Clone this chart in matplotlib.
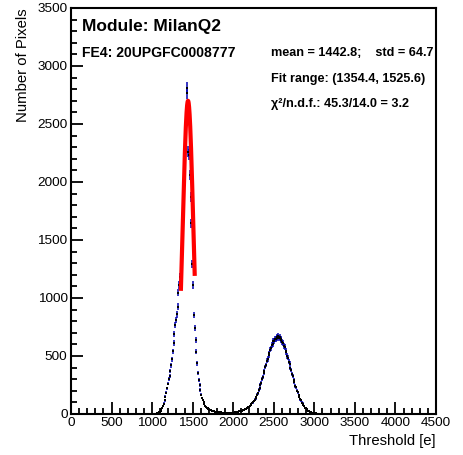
import numpy as np
import matplotlib
matplotlib.use("Agg")
import matplotlib.pyplot as plt

plt.rcParams['font.family'] = ['Liberation Sans', 'DejaVu Sans']

# ---- data (bin width 10 e, bin centers) ----
bin_width = 10
first_center = 1045
counts = [
    # 1045 .. 1435 (peak 1, left side)
    2, 4, 6, 10, 15, 20, 30, 42, 55, 70,
    90, 118, 150, 185, 220, 262, 300, 330, 372, 420,
    470, 540, 612, 690, 765, 810, 860, 925, 1046, 1112,
    1183, 1300, 1457, 1672, 1819, 2164, 2379, 2578, 2764, 2808,
    # 1445 .. 1795 (peak 1, right side)
    2261, 2233, 2060, 1868, 1644, 1293, 1112, 853, 740, 640,
    537, 437, 351, 293, 250, 207, 164, 138, 121, 100,
    84, 72, 60, 54, 48, 42, 38, 35, 31, 28,
    26, 24, 22, 21, 20, 19,
    # 1805 .. 2095 (valley)
    18, 17, 16, 15, 14, 13, 12, 12, 11, 10,
    10, 9, 9, 8, 9, 8, 9, 10, 10, 11,
    12, 12, 14, 15, 17, 18, 21, 22, 25, 27,
    # 2105 .. 2995 (peak 2)
    30, 32, 34, 37, 40, 44, 48, 53, 58, 64,
    70, 77, 84, 92, 100, 112, 125, 134, 145, 168,
    180, 207, 221, 251, 268, 300, 318, 351, 370, 404,
    422, 458, 474, 509, 522, 556, 566, 597, 603, 630,
    628, 648, 645, 666, 652, 672, 655, 660, 641, 645,
    618, 613, 588, 577, 546, 532, 500, 484, 449, 432,
    397, 378, 343, 326, 294, 274, 244, 229, 200, 186,
    160, 148, 126, 118, 99, 90, 76, 69, 56, 51,
    41, 37, 29, 26, 20, 17, 14, 11, 9, 8,
    # 3005 .. 3195 (tail)
    6, 5, 4, 4, 3, 2, 2, 1, 2, 1,
    1, 0, 1, 0, 0, 1, 0, 0, 0, 0,
]

# fit parameters (from the annotation)
fit_mean = 1442.8
fit_std = 64.7
fit_amplitude = 2700
fit_lo, fit_hi = 1354.4, 1525.6
chi2, ndf = 45.3, 14.0

module_name = "Module: MilanQ2"
fe_name = "FE4: 20UPGFC0008777"

x_ticks = [0, 500, 1000, 1500, 2000, 2500, 3000, 3500, 4000, 4500]
y_ticks = [0, 500, 1000, 1500, 2000, 2500, 3000, 3500]

# ---- plot ----
counts = np.array(counts, dtype=float)
centers = first_center + bin_width * np.arange(len(counts))
errs = np.sqrt(counts)

W, H = 464, 455
fig = plt.figure(figsize=(W / 100, H / 100), dpi=100)
ax = fig.add_axes([71 / W, (H - 414) / H, (436 - 71) / W, (414 - 8) / H])

ax.errorbar(centers, counts, yerr=errs, fmt='none', ecolor='#0000b0',
            elinewidth=1.1, capsize=0, zorder=2)
ax.plot(centers, counts, ls='none', marker='s', ms=2.0, mfc='black',
        mec='black', mew=0, zorder=3)

xf = np.linspace(fit_lo, fit_hi, 200)
yf = fit_amplitude * np.exp(-0.5 * ((xf - fit_mean) / fit_std) ** 2)
ax.plot(xf, yf, color='#ff0000', lw=3.0, zorder=4, solid_capstyle='butt')

ax.set_xlim(0, 4500)
ax.set_ylim(0, 3500)
ax.set_xticks(x_ticks)
ax.set_yticks(y_ticks)
ax.set_xticklabels([str(v) for v in x_ticks])
ax.set_yticklabels([str(v) for v in y_ticks])
ax.set_xticks(np.arange(0, 4501, 100), minor=True)
ax.set_yticks(np.arange(0, 3501, 100), minor=True)

ax.tick_params(which='both', direction='in', top=False, right=False,
               labelsize=9.7, width=1.3, colors='black')
ax.tick_params(which='major', length=8.5, pad=2.5)
ax.tick_params(which='minor', length=4.3)
for s in ax.spines.values():
    s.set_linewidth(1.5)

ax.set_xlabel("Threshold [e]", fontsize=10.7, loc='right', labelpad=3)
ax.set_ylabel("Number of Pixels", fontsize=10.7, loc='top', labelpad=5)

def axpos(px, py):
    return (px - 71) / 365, (414 - py) / 406

ax.text(*axpos(82, 27), module_name, fontsize=12.5, fontweight='bold',
        va='center', ha='left', transform=ax.transAxes)
ax.text(*axpos(82, 53), fe_name, fontsize=10.1, fontweight='bold',
        va='center', ha='left', transform=ax.transAxes)
ax.text(*axpos(271, 53), f"mean = {fit_mean};    std = {fit_std}", fontsize=9.1,
        fontweight='bold', va='center', ha='left', transform=ax.transAxes,
        clip_on=True)
ax.text(*axpos(271, 79), f"Fit range: ({fit_lo}, {fit_hi})", fontsize=9.1,
        fontweight='bold', va='center', ha='left', transform=ax.transAxes)
ax.text(*axpos(271, 104), f"χ²/n.d.f.: {chi2}/{ndf} = {chi2 / ndf:.1f}",
        fontsize=9.1, fontweight='bold', va='center', ha='left',
        transform=ax.transAxes)

fig.savefig("out.png", dpi=100, facecolor='white')
